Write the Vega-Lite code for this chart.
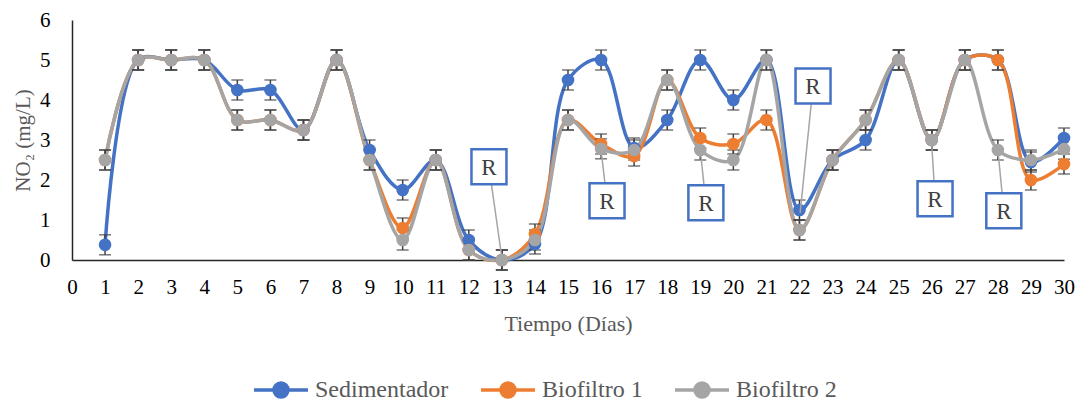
{
  "$schema": "https://vega.github.io/schema/vega-lite/v6.json",
  "autosize": {"type": "none"},
  "padding": {"left": 72, "top": 20, "right": 18, "bottom": 143},
  "width": 992,
  "height": 240,
  "background": "white",
  "config": {
    "view": {"stroke": null},
    "font": "Liberation Serif",
    "style": {"guide-label": {"font": "Liberation Serif"}, "guide-title": {"font": "Liberation Serif"}},
    "axis": {"grid": false, "ticks": false, "labelFont": "Liberation Serif", "titleFont": "Liberation Serif", "labelColor": "#000000", "titleColor": "#595959", "titleFontWeight": "normal", "domainColor": "#262626", "domainWidth": 1.5, "labelOverlap": false, "labelFlush": false},
    "axisX": {"values": [0,1,2,3,4,5,6,7,8,9,10,11,12,13,14,15,16,17,18,19,20,21,22,23,24,25,26,27,28,29,30], "labelFont": "Liberation Serif", "titleFont": "Liberation Serif", "labelFontSize": 21, "labelPadding": 16, "titleFontSize": 22, "titlePadding": 16},
    "axisY": {"values": [0,1,2,3,4,5,6], "labelFont": "Liberation Serif", "titleFont": "Liberation Serif", "labelFontSize": 21, "labelPadding": 22, "titleFontSize": 21, "titlePadding": 6},
    "legend": {
      "orient": "none", "legendX": 197, "legendY": 358, "direction": "horizontal", "title": null,
      "symbolType": "M-5.4,0L5.4,0M1.4,0A1.4,1.4,0,1,1,-1.4,0A1.4,1.4,0,1,1,1.4,0Z",
      "symbolSize": 100, "symbolStrokeWidth": 3.5, "labelOffset": 22, "columnPadding": 25,
      "labelFont": "Liberation Serif", "labelFontSize": 24, "labelColor": "#595959", "symbolOpacity": 1
    }
  },
  "datasets": {
    "serie": [
      {"dia": 1, "serie": "Sedimentador", "no2": 0.38, "err": 0.25},
      {"dia": 2, "serie": "Sedimentador", "no2": 5, "err": 0.25},
      {"dia": 3, "serie": "Sedimentador", "no2": 5, "err": 0.25},
      {"dia": 4, "serie": "Sedimentador", "no2": 5, "err": 0.25},
      {"dia": 5, "serie": "Sedimentador", "no2": 4.25, "err": 0.25},
      {"dia": 6, "serie": "Sedimentador", "no2": 4.25, "err": 0.25},
      {"dia": 7, "serie": "Sedimentador", "no2": 3.25, "err": 0.25},
      {"dia": 8, "serie": "Sedimentador", "no2": 5, "err": 0.25},
      {"dia": 9, "serie": "Sedimentador", "no2": 2.75, "err": 0.25},
      {"dia": 10, "serie": "Sedimentador", "no2": 1.75, "err": 0.25},
      {"dia": 11, "serie": "Sedimentador", "no2": 2.5, "err": 0.25},
      {"dia": 12, "serie": "Sedimentador", "no2": 0.5, "err": 0.25},
      {"dia": 13, "serie": "Sedimentador", "no2": 0, "err": 0.25},
      {"dia": 14, "serie": "Sedimentador", "no2": 0.4, "err": 0.25},
      {"dia": 15, "serie": "Sedimentador", "no2": 4.5, "err": 0.25},
      {"dia": 16, "serie": "Sedimentador", "no2": 5, "err": 0.25},
      {"dia": 17, "serie": "Sedimentador", "no2": 2.8, "err": 0.25},
      {"dia": 18, "serie": "Sedimentador", "no2": 3.5, "err": 0.25},
      {"dia": 19, "serie": "Sedimentador", "no2": 5, "err": 0.25},
      {"dia": 20, "serie": "Sedimentador", "no2": 4, "err": 0.25},
      {"dia": 21, "serie": "Sedimentador", "no2": 5, "err": 0.25},
      {"dia": 22, "serie": "Sedimentador", "no2": 1.25, "err": 0.25},
      {"dia": 23, "serie": "Sedimentador", "no2": 2.5, "err": 0.25},
      {"dia": 24, "serie": "Sedimentador", "no2": 3, "err": 0.25},
      {"dia": 25, "serie": "Sedimentador", "no2": 5, "err": 0.25},
      {"dia": 26, "serie": "Sedimentador", "no2": 3, "err": 0.25},
      {"dia": 27, "serie": "Sedimentador", "no2": 5, "err": 0.25},
      {"dia": 28, "serie": "Sedimentador", "no2": 5, "err": 0.25},
      {"dia": 29, "serie": "Sedimentador", "no2": 2.45, "err": 0.25},
      {"dia": 30, "serie": "Sedimentador", "no2": 3.05, "err": 0.25},
      {"dia": 1, "serie": "Biofiltro 1", "no2": 2.5, "err": 0.25},
      {"dia": 2, "serie": "Biofiltro 1", "no2": 5, "err": 0.25},
      {"dia": 3, "serie": "Biofiltro 1", "no2": 5, "err": 0.25},
      {"dia": 4, "serie": "Biofiltro 1", "no2": 5, "err": 0.25},
      {"dia": 5, "serie": "Biofiltro 1", "no2": 3.5, "err": 0.25},
      {"dia": 6, "serie": "Biofiltro 1", "no2": 3.5, "err": 0.25},
      {"dia": 7, "serie": "Biofiltro 1", "no2": 3.25, "err": 0.25},
      {"dia": 8, "serie": "Biofiltro 1", "no2": 5, "err": 0.25},
      {"dia": 9, "serie": "Biofiltro 1", "no2": 2.5, "err": 0.25},
      {"dia": 10, "serie": "Biofiltro 1", "no2": 0.8, "err": 0.25},
      {"dia": 11, "serie": "Biofiltro 1", "no2": 2.5, "err": 0.25},
      {"dia": 12, "serie": "Biofiltro 1", "no2": 0.25, "err": 0.25},
      {"dia": 13, "serie": "Biofiltro 1", "no2": 0, "err": 0.25},
      {"dia": 14, "serie": "Biofiltro 1", "no2": 0.65, "err": 0.25},
      {"dia": 15, "serie": "Biofiltro 1", "no2": 3.5, "err": 0.25},
      {"dia": 16, "serie": "Biofiltro 1", "no2": 2.9, "err": 0.25},
      {"dia": 17, "serie": "Biofiltro 1", "no2": 2.6, "err": 0.25},
      {"dia": 18, "serie": "Biofiltro 1", "no2": 4.5, "err": 0.25},
      {"dia": 19, "serie": "Biofiltro 1", "no2": 3.05, "err": 0.25},
      {"dia": 20, "serie": "Biofiltro 1", "no2": 2.9, "err": 0.25},
      {"dia": 21, "serie": "Biofiltro 1", "no2": 3.5, "err": 0.25},
      {"dia": 22, "serie": "Biofiltro 1", "no2": 0.75, "err": 0.25},
      {"dia": 23, "serie": "Biofiltro 1", "no2": 2.5, "err": 0.25},
      {"dia": 24, "serie": "Biofiltro 1", "no2": 3.5, "err": 0.25},
      {"dia": 25, "serie": "Biofiltro 1", "no2": 5, "err": 0.25},
      {"dia": 26, "serie": "Biofiltro 1", "no2": 3, "err": 0.25},
      {"dia": 27, "serie": "Biofiltro 1", "no2": 5, "err": 0.25},
      {"dia": 28, "serie": "Biofiltro 1", "no2": 5, "err": 0.25},
      {"dia": 29, "serie": "Biofiltro 1", "no2": 2, "err": 0.25},
      {"dia": 30, "serie": "Biofiltro 1", "no2": 2.4, "err": 0.25},
      {"dia": 1, "serie": "Biofiltro 2", "no2": 2.5, "err": 0.25},
      {"dia": 2, "serie": "Biofiltro 2", "no2": 5, "err": 0.25},
      {"dia": 3, "serie": "Biofiltro 2", "no2": 5, "err": 0.25},
      {"dia": 4, "serie": "Biofiltro 2", "no2": 5, "err": 0.25},
      {"dia": 5, "serie": "Biofiltro 2", "no2": 3.5, "err": 0.25},
      {"dia": 6, "serie": "Biofiltro 2", "no2": 3.5, "err": 0.25},
      {"dia": 7, "serie": "Biofiltro 2", "no2": 3.25, "err": 0.25},
      {"dia": 8, "serie": "Biofiltro 2", "no2": 5, "err": 0.25},
      {"dia": 9, "serie": "Biofiltro 2", "no2": 2.5, "err": 0.25},
      {"dia": 10, "serie": "Biofiltro 2", "no2": 0.5, "err": 0.25},
      {"dia": 11, "serie": "Biofiltro 2", "no2": 2.5, "err": 0.25},
      {"dia": 12, "serie": "Biofiltro 2", "no2": 0.25, "err": 0.25},
      {"dia": 13, "serie": "Biofiltro 2", "no2": 0, "err": 0.25},
      {"dia": 14, "serie": "Biofiltro 2", "no2": 0.5, "err": 0.25},
      {"dia": 15, "serie": "Biofiltro 2", "no2": 3.5, "err": 0.25},
      {"dia": 16, "serie": "Biofiltro 2", "no2": 2.78, "err": 0.25},
      {"dia": 17, "serie": "Biofiltro 2", "no2": 2.75, "err": 0.25},
      {"dia": 18, "serie": "Biofiltro 2", "no2": 4.5, "err": 0.25},
      {"dia": 19, "serie": "Biofiltro 2", "no2": 2.75, "err": 0.25},
      {"dia": 20, "serie": "Biofiltro 2", "no2": 2.5, "err": 0.25},
      {"dia": 21, "serie": "Biofiltro 2", "no2": 5, "err": 0.25},
      {"dia": 22, "serie": "Biofiltro 2", "no2": 0.75, "err": 0.25},
      {"dia": 23, "serie": "Biofiltro 2", "no2": 2.5, "err": 0.25},
      {"dia": 24, "serie": "Biofiltro 2", "no2": 3.5, "err": 0.25},
      {"dia": 25, "serie": "Biofiltro 2", "no2": 5, "err": 0.25},
      {"dia": 26, "serie": "Biofiltro 2", "no2": 3, "err": 0.25},
      {"dia": 27, "serie": "Biofiltro 2", "no2": 5, "err": 0.25},
      {"dia": 28, "serie": "Biofiltro 2", "no2": 2.75, "err": 0.25},
      {"dia": 29, "serie": "Biofiltro 2", "no2": 2.5, "err": 0.25},
      {"dia": 30, "serie": "Biofiltro 2", "no2": 2.77, "err": 0.25}
    ],
    "anot": [
      {"texto": "R", "caja_x": 12.61, "caja_y": 2.33, "punto_x": 13, "punto_y": 0.05},
      {"texto": "R", "caja_x": 16.18, "caja_y": 1.48, "punto_x": 16, "punto_y": 2.75},
      {"texto": "R", "caja_x": 19.17, "caja_y": 1.43, "punto_x": 19, "punto_y": 2.75},
      {"texto": "R", "caja_x": 22.41, "caja_y": 4.35, "punto_x": 22.02, "punto_y": 1.17},
      {"texto": "R", "caja_x": 26.1, "caja_y": 1.53, "punto_x": 26, "punto_y": 2.9},
      {"texto": "R", "caja_x": 28.18, "caja_y": 1.23, "punto_x": 28, "punto_y": 2.75}
    ]
  },
  "layer": [
    {
      "data": {"name": "serie"},
      "mark": {"type": "line", "interpolate": "catmull-rom", "strokeWidth": 3.5},
      "encoding": {
        "x": {"field": "dia", "type": "quantitative", "title": "Tiempo (Días)", "scale": {"domain": [0, 30], "nice": false}, "axis": {"labelFont": "Liberation Serif", "titleFont": "Liberation Serif"}},
        "y": {"field": "no2", "type": "quantitative", "title": "NO₂ (mg/L)", "scale": {"domain": [0, 6], "nice": false}, "axis": {"labelFont": "Liberation Serif", "titleFont": "Liberation Serif"}},
        "color": {"field": "serie", "type": "nominal", "scale": {"domain": ["Sedimentador", "Biofiltro 1", "Biofiltro 2"], "range": ["#4472C4", "#ED7D31", "#A5A5A5"]},
          "legend": {"labelFont": "Liberation Serif", "encoding": {"symbols": {"update": {"stroke": {"scale": "color", "field": "value"}, "fill": {"scale": "color", "field": "value"}, "strokeWidth": {"value": 3.5}}}, "labels": {"update": {"font": {"value": "Liberation Serif"}}}}}}
      }
    },
    {
      "data": {"name": "serie"},
      "mark": {"type": "errorbar", "ticks": {"size": 12}, "color": "#404040", "thickness": 1.5},
      "encoding": {
        "x": {"field": "dia", "type": "quantitative", "title": "Tiempo (Días)"},
        "y": {"field": "no2", "type": "quantitative", "title": "NO₂ (mg/L)"},
        "yError": {"field": "err"}
      }
    },
    {
      "data": {"name": "serie"},
      "mark": {"type": "point", "filled": true, "size": 160, "opacity": 1},
      "encoding": {
        "x": {"field": "dia", "type": "quantitative", "title": "Tiempo (Días)"},
        "y": {"field": "no2", "type": "quantitative", "title": "NO₂ (mg/L)"},
        "color": {"field": "serie", "type": "nominal",
          "legend": {"labelFont": "Liberation Serif", "encoding": {"symbols": {"update": {"stroke": {"scale": "color", "field": "value"}, "fill": {"scale": "color", "field": "value"}, "strokeWidth": {"value": 3.5}}}, "labels": {"update": {"font": {"value": "Liberation Serif"}}}}}}
      }
    },
    {
      "data": {"name": "anot"},
      "mark": {"type": "rule", "color": "#A5A5A5", "strokeWidth": 1.5},
      "encoding": {
        "x": {"field": "caja_x", "type": "quantitative", "title": "Tiempo (Días)"},
        "y": {"field": "caja_y", "type": "quantitative", "title": "NO₂ (mg/L)"},
        "x2": {"field": "punto_x"},
        "y2": {"field": "punto_y"}
      }
    },
    {
      "data": {"name": "anot"},
      "mark": {"type": "point", "shape": "square", "size": 1225, "filled": true, "fill": "white", "stroke": "#4472C4", "strokeWidth": 2.5, "opacity": 1},
      "encoding": {
        "x": {"field": "caja_x", "type": "quantitative", "title": "Tiempo (Días)"},
        "y": {"field": "caja_y", "type": "quantitative", "title": "NO₂ (mg/L)"}
      }
    },
    {
      "data": {"name": "anot"},
      "mark": {"type": "text", "font": "Liberation Serif", "fontSize": 23, "color": "#404040", "baseline": "middle", "align": "center", "dy": 1},
      "encoding": {
        "x": {"field": "caja_x", "type": "quantitative", "title": "Tiempo (Días)"},
        "y": {"field": "caja_y", "type": "quantitative", "title": "NO₂ (mg/L)"},
        "text": {"field": "texto"}
      }
    }
  ]
}
